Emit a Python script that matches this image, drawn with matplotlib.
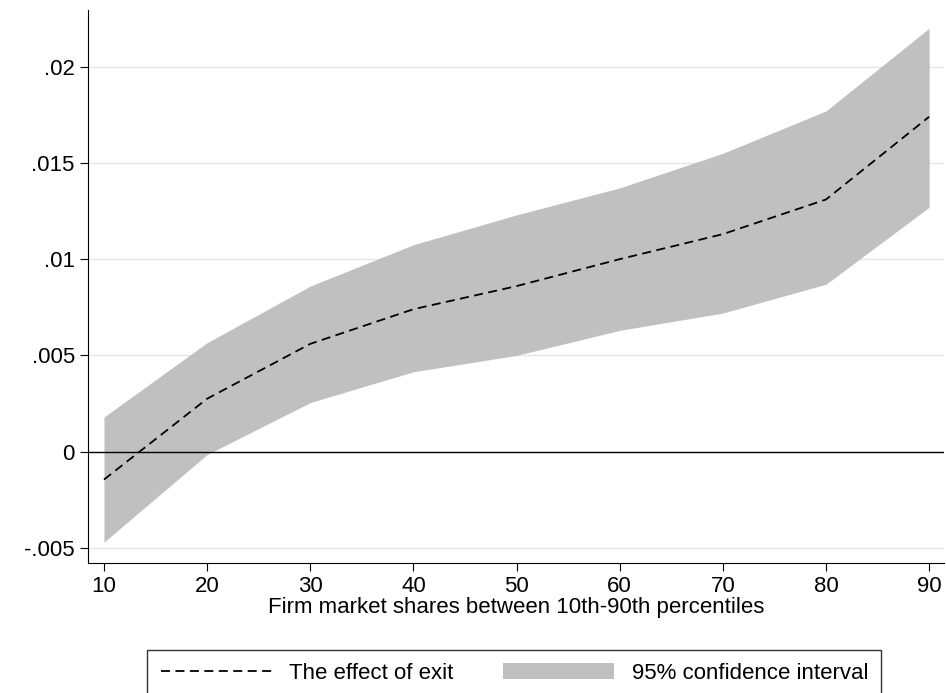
import matplotlib
matplotlib.use("Agg")
import matplotlib.pyplot as plt

plt.rcParams['font.family'] = ['Liberation Sans', 'DejaVu Sans']

shares = [10, 20, 30, 40, 50, 60, 70, 80, 90]
effect = [-0.00145, 0.00275, 0.0056, 0.0074, 0.0086, 0.0100, 0.0113, 0.0131, 0.0174]
upper = [0.0018, 0.00566, 0.0086, 0.01075, 0.0123, 0.0137, 0.0155, 0.0177, 0.0220]
lower = [-0.0047, -0.00015, 0.00255, 0.00415, 0.0050, 0.0063, 0.0072, 0.0087, 0.0127]
yticks = [-0.005, 0, 0.005, 0.01, 0.015, 0.02]
ylabels = ['-.005', '0', '.005', '.01', '.015', '.02']

fig = plt.figure(figsize=(9.46, 6.93), dpi=100)
ax = fig.add_axes([0.093, 0.188, 0.905, 0.798])

band = ax.fill_between(shares, lower, upper, color='#c0c0c0', linewidth=0,
                       label='95% confidence interval', zorder=1)
line, = ax.plot(shares, effect, color='black', linestyle=(0, (5, 3)), linewidth=1.3,
                label='The effect of exit', zorder=3)
ax.axhline(0, color='black', linewidth=1, zorder=2)

ax.set_xlim(8.45, 91.45)
ax.set_ylim(-0.00577, 0.02296)
ax.set_xticks(shares)
ax.set_yticks(yticks)
ax.set_yticklabels(ylabels)
ax.grid(axis='y', color='#e6e6e6', linewidth=1, zorder=0)
ax.set_axisbelow(True)
for s in ['top', 'right']:
    ax.spines[s].set_visible(False)
ax.tick_params(labelsize=16, length=6)
ax.set_xlabel('Firm market shares between 10th-90th percentiles', fontsize=16, labelpad=0)

ax.legend([line, band], ['The effect of exit', '95% confidence interval'],
          loc='upper center', bbox_to_anchor=(0.498, -0.137), ncol=2, fontsize=16,
          frameon=True, fancybox=False, edgecolor='black', handlelength=5,
          columnspacing=2.2, borderpad=0.6)

fig.savefig('out.png', dpi=100)
